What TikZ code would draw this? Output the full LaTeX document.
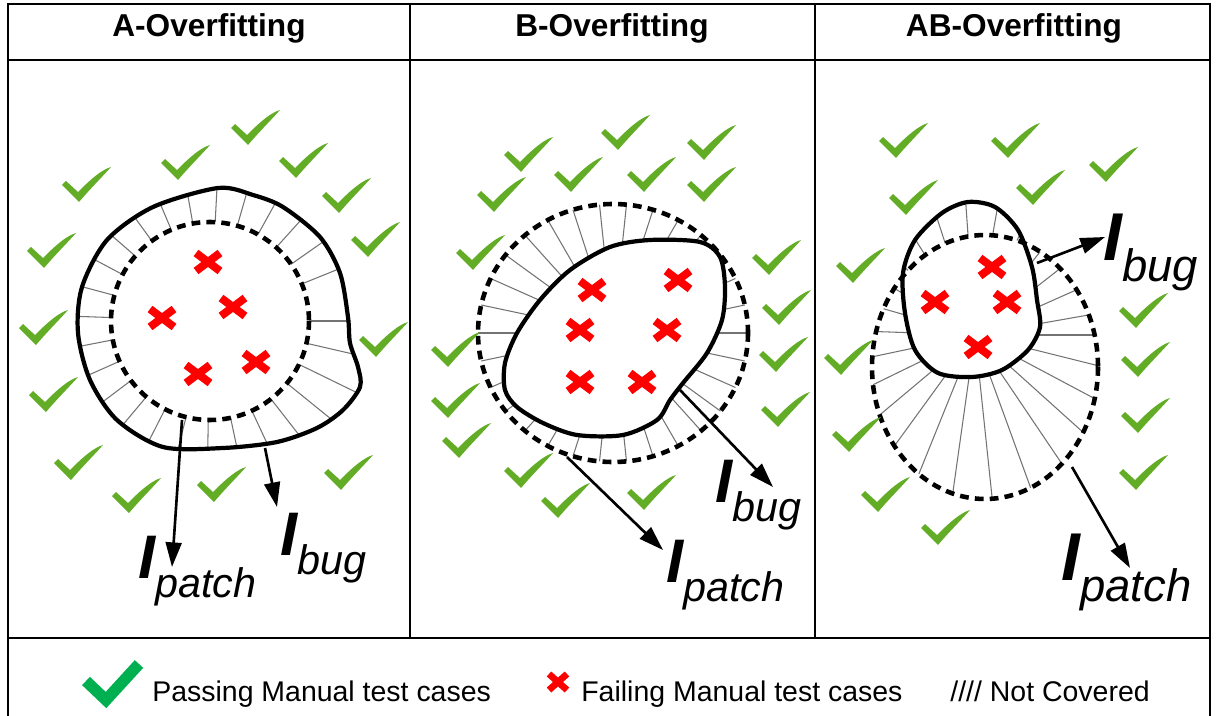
\documentclass[tikz,border=0pt]{standalone}
\usepackage{fontspec}
\setmainfont{Liberation Sans}
\usetikzlibrary{arrows.meta}

\definecolor{tickgreen}{RGB}{98,172,38}
\definecolor{keygreen}{RGB}{0,176,80}
\definecolor{failred}{RGB}{255,0,0}

\newcommand{\Ilab}[1]{{\fontsize{35}{35}\selectfont\bfseries\itshape I}\raisebox{-11pt}{\fontsize{23.5}{23.5}\selectfont\itshape #1}}

\def\blobA{plot[smooth cycle] coordinates {(218,188) (253,195) (283,207) (320,237) (340,273) (348,317) (350,343) (358,367) (360,387) (343,410) (317,428) (277,442) (223,448) (163,447) (117,420) (90,380) (78,333) (82,287) (107,240) (153,207)}}
\def\blobB{plot[smooth cycle] coordinates {(610,247) (650,240) (700,242) (720,257) (725,287) (722,320) (707,353) (683,383) (670,400) (657,420) (623,435) (577,435) (543,423) (517,407) (505,390) (505,363) (517,333) (540,300) (570,270)}}
\def\blobC{plot[smooth cycle] coordinates {(968,202) (995,207) (1018,230) (1032,267) (1037,300) (1040,327) (1028,350) (1002,370) (972,377) (938,373) (915,350) (905,313) (903,273) (915,240) (942,213)}}

\tikzset{
  tick/.pic={\fill[tickgreen] (-12,-16) -- (0,-5) .. controls (12,-17) and (23,-27) .. (33,-30) .. controls (26,-22) and (12,-8) .. (1,5) -- (-16,-12) -- cycle;},
  cross/.pic={\draw[failred,line width=4.5pt] (-12,-9) -- (12,9) (-12,9) -- (12,-9);},
  hatch/.style={black!55,line width=0.6pt},
  rim/.style={line width=2.4pt},
  dashrim/.style={line width=2.6pt,dash pattern=on 5pt off 3.5pt},
  arr/.style={-{Triangle[length=14pt,width=9pt]},line width=1.5pt},
  lab/.style={anchor=base west,inner sep=0pt},
  title/.style={anchor=base,inner sep=0pt,font=\fontsize{18}{20}\selectfont\bfseries},
  key/.style={anchor=base west,inner sep=0pt,font=\fontsize{16.2}{19}\selectfont}
}

\begin{document}
\begin{tikzpicture}[x=0.02cm,y=-0.02cm]
\useasboundingbox (0,0) rectangle (1217,716);
% table
\draw[line width=1.1pt] (8,716) -- (8,4) -- (1210,4) -- (1210,716);
\draw[line width=1.2pt] (8,60) -- (1210,60);
\draw[line width=1.5pt] (8,638) -- (1210,638);
\draw[line width=0.6pt] (410,4) -- (410,638) (815,4) -- (815,638);
\node[title] (tA) at (209,37) {A-Overfitting};
\node[title] (tB) at (612,37) {B-Overfitting};
\node[title] (tC) at (1014,37) {AB-Overfitting};

% A
\begin{scope}[even odd rule]
\clip \blobA (210,321) circle[radius=99];
\foreach \a in {0,13,...,350} \draw[hatch] (210,321) -- ++(\a:200);
\end{scope}
\draw[dashrim] (210,321) circle[radius=99];
\draw[rim] \blobA;
\foreach \p in {(208,262),(233,307),(162,318),(256,362),(198,374)}
    \pic at \p {cross};
\foreach \p in {(78,197),(177,175),(247,140),(295,173),(338,208),(367,252),(43,263),(35,340),(375,352),(45,407),(70,475),(128,508),(213,497),(340,485)}
    \pic at \p {tick};
\coordinate (Aps) at (182,420);
\coordinate (Ape) at (172,567);
\coordinate (Abs) at (265,448);
\coordinate (Abe) at (277,507);
\draw[arr] (Aps) -- (Ape);
\draw[arr] (Abs) -- (Abe);
\node[lab] (Apl) at (138,578) {\Ilab{patch}};
\node[lab] (Abl) at (280,555) {\Ilab{bug}};

% B
\begin{scope}[even odd rule]
\clip \blobB (613,333) ellipse[x radius=135,y radius=129];
\foreach \a in {0,12,...,350} \draw[hatch] (613,333) -- ++(\a:200);
\end{scope}
\draw[dashrim] (613,333) ellipse[x radius=135,y radius=129];
\draw[rim] \blobB;
\foreach \p in {(592,290),(678,280),(580,330),(667,330),(580,382),(642,382)}
    \pic at \p {cross};
\foreach \p in {(520,167),(617,145),(703,155),(493,207),(570,187),(643,187),(703,197),(472,265),(768,270),(778,320),(447,362),(775,367),(447,413),(777,422),(458,453),(520,483),(557,513),(643,505)}
    \pic at \p {tick};
\coordinate (Bps) at (567,457);
\coordinate (Bpe) at (663,550);
\coordinate (Bbs) at (680,390);
\coordinate (Bbe) at (773,487);
\draw[arr] (Bps) -- (Bpe);
\draw[arr] (Bbs) -- (Bbe);
\node[lab] (Bpl) at (666,582) {\Ilab{patch}};
\node[lab] (Bbl) at (715,502) {\Ilab{bug}};

% AB
\begin{scope}[even odd rule]
\clip \blobC (985,367) ellipse[x radius=113,y radius=132];
\foreach \a in {0,14,...,350} \draw[hatch] (975,335) -- ++(\a:220);
\end{scope}
\draw[dashrim] (985,367) ellipse[x radius=113,y radius=132];
\draw[rim] \blobC;
\foreach \p in {(992,267),(935,302),(1007,302),(978,347)}
    \pic at \p {cross};
\foreach \p in {(895,153),(1007,153),(1105,177),(905,210),(1032,200),(852,278),(1135,323),(840,370),(1137,372),(848,447),(1137,428),(1135,485),(877,507),(937,540)}
    \pic at \p {tick};
\coordinate (Cbs) at (1037,263);
\coordinate (Cbe) at (1105,237);
\coordinate (Cps) at (1072,467);
\coordinate (Cpe) at (1130,568);
\draw[arr] (Cbs) -- (Cbe);
\draw[arr] (Cps) -- (Cpe);
\node[lab,scale=1.1] (Cbl) at (1103,260) {\Ilab{bug}};
\node[lab,scale=1.1] (Cpl) at (1061,580) {\Ilab{patch}};

% legend
\draw[keygreen,line width=6.5pt] (86,681) -- (106,700) -- (139,664);
\draw[failred,line width=3.8pt] (549,674) -- (567,690) (549,690) -- (567,674);
\node[key] (kpass) at (152,701) {Passing Manual test cases};
\node[key] (kfail) at (581,701) {Failing Manual test cases};
\node[key] (kcov) at (950,701) {//// Not Covered};
\end{tikzpicture}
\end{document}
